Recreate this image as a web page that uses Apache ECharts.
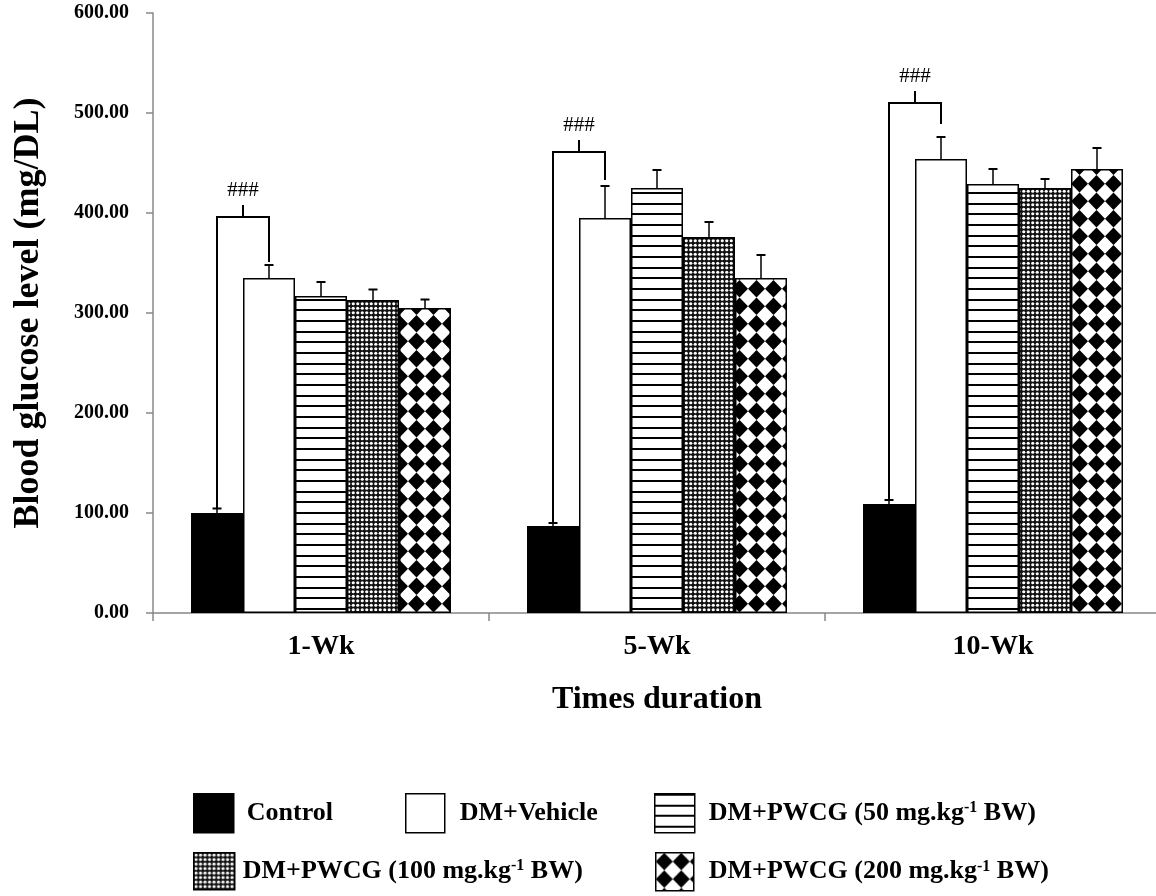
<!DOCTYPE html>
<html>
<head>
<meta charset="utf-8">
<title>Blood glucose level</title>
<script src="https://cdn.jsdelivr.net/npm/echarts@6/dist/echarts.min.js"></script>
<style>
  html, body { margin: 0; padding: 0; background: #fff; overflow: hidden; }
  /* the x axis runs a few pixels past the right edge of the page */
  #chart { width: 1170px; height: 896px; }
</style>
</head>
<body>
<div id="chart"></div>
<script>
// ---- data ----
const categories = ['1-Wk', '5-Wk', '10-Wk'];
const seriesNames = [
  'Control',
  'DM+Vehicle',
  'DM+PWCG (50 mg.kg-1 BW)',
  'DM+PWCG (100 mg.kg-1 BW)',
  'DM+PWCG (200 mg.kg-1 BW)'
];
const controlMean   = [100, 87, 109];
const controlSEM    = [4.5, 3, 4];
const vehicleMean   = [335, 395, 454];
const vehicleSEM    = [13, 32, 22];
const pwcg50Mean    = [317, 425, 429];
const pwcg50SEM     = [14, 18, 15];
const pwcg100Mean   = [313, 376, 425];
const pwcg100SEM    = [10.5, 15, 9];
const pwcg200Mean   = [305, 335, 444];
const pwcg200SEM    = [8.5, 23, 21];
// significance bracket (Control vs DM+Vehicle), in mg/DL
const bracketTop      = [396, 461, 510];
const bracketRightEnd = [351, 433, 489];
const sigLabel = '###';
const yTicks = [0, 100, 200, 300, 400, 500, 600];

const means = [controlMean, vehicleMean, pwcg50Mean, pwcg100Mean, pwcg200Mean];
const sems  = [controlSEM, vehicleSEM, pwcg50SEM, pwcg100SEM, pwcg200SEM];

// ---- fill patterns ----
function makeCanvas(w, h) {
  const c = document.createElement('canvas');
  c.width = w; c.height = h;
  return c;
}
function stripeTile() {
  const c = makeCanvas(8, 32), g = c.getContext('2d');
  g.fillStyle = '#fff'; g.fillRect(0, 0, 8, 32);
  g.fillStyle = '#000';
  [0, 11, 21].forEach(y => g.fillRect(0, y, 8, 2));
  return c;
}
function dotTile() {
  const c = makeCanvas(9, 9), g = c.getContext('2d');
  g.fillStyle = '#111'; g.fillRect(0, 0, 9, 9);
  g.fillStyle = '#fff';
  [[2.25, 2.25], [6.75, 2.25], [2.25, 6.75], [6.75, 6.75]].forEach(p => {
    g.beginPath(); g.arc(p[0], p[1], 1.6, 0, Math.PI * 2); g.fill();
  });
  return c;
}
function diamondTile() {
  const w = 34, h = 35, c = makeCanvas(w, h), g = c.getContext('2d');
  g.fillStyle = '#fff'; g.fillRect(0, 0, w, h);
  g.fillStyle = '#000';
  const hx = 8.5, hy = 8.75;
  [[8.5, 8.75], [25.5, 8.75], [8.5, 26.25], [25.5, 26.25]].forEach(p => {
    g.beginPath();
    g.moveTo(p[0], p[1] - hy);
    g.lineTo(p[0] + hx, p[1]);
    g.lineTo(p[0], p[1] + hy);
    g.lineTo(p[0] - hx, p[1]);
    g.closePath(); g.fill();
  });
  return c;
}
const fills = [
  '#000',
  '#fff',
  { image: stripeTile(), repeat: 'repeat' },
  { image: dotTile(), repeat: 'repeat' },
  { image: diamondTile(), repeat: 'repeat' }
];

// ---- layout constants ----
const FONT = "'Liberation Serif', 'Times New Roman', serif";
const BAR_W = 52;
const N = seriesNames.length;

const barSeries = seriesNames.map((name, s) => ({
  name: name,
  type: 'bar',
  barWidth: BAR_W,
  barGap: '0%',
  data: means[s],
  itemStyle: { color: fills[s], borderColor: '#000', borderWidth: 1.5 },
  emphasis: { disabled: true },
  z: 2
}));

const errData = [];
for (let s = 0; s < N; s++) {
  for (let i = 0; i < categories.length; i++) {
    errData.push([i, s, means[s][i], sems[s][i]]);
  }
}

const errorSeries = {
  name: 'sem',
  type: 'custom',
  data: errData,
  encode: { x: 0, y: 2 },
  z: 5,
  silent: true,
  renderItem: function (params, api) {
    const cat = api.value(0), s = api.value(1), v = api.value(2), e = api.value(3);
    const base = api.coord([cat, v]);
    const top = api.coord([cat, v + e]);
    const x = base[0] + (s - (N - 1) / 2) * BAR_W;
    return {
      type: 'group',
      children: [
        { type: 'line', shape: { x1: x, y1: base[1], x2: x, y2: top[1] },
          style: { stroke: '#000', lineWidth: 1.5 } },
        { type: 'line', shape: { x1: x - 4.5, y1: top[1], x2: x + 4.5, y2: top[1] },
          style: { stroke: '#000', lineWidth: 2 } }
      ]
    };
  }
};

const bracketData = categories.map((c, i) => [
  i, controlMean[i] + controlSEM[i], bracketTop[i], bracketRightEnd[i]
]);

const bracketSeries = {
  name: 'significance',
  type: 'custom',
  data: bracketData,
  encode: { x: 0, y: 2 },
  z: 6,
  silent: true,
  renderItem: function (params, api) {
    const cat = api.value(0);
    const cx = api.coord([cat, 0])[0];
    const yL = api.coord([cat, api.value(1)])[1];
    const yT = api.coord([cat, api.value(2)])[1];
    const yR = api.coord([cat, api.value(3)])[1];
    const xL = cx + (0 - (N - 1) / 2) * BAR_W;
    const xR = cx + (1 - (N - 1) / 2) * BAR_W;
    const xM = (xL + xR) / 2;
    const tick = 12;
    return {
      type: 'group',
      children: [
        { type: 'polyline',
          shape: { points: [[xL, yL], [xL, yT], [xR, yT], [xR, yR]] },
          style: { stroke: '#000', lineWidth: 2, fill: null } },
        { type: 'line', shape: { x1: xM, y1: yT, x2: xM, y2: yT - tick },
          style: { stroke: '#000', lineWidth: 2 } },
        { type: 'text', x: xM, y: yT - tick - 4,
          style: { text: sigLabel, fill: '#000', align: 'center', verticalAlign: 'bottom',
                   font: '21px ' + FONT } }
      ]
    };
  }
};

// ---- legend: one component per entry ----
const legendRich = {
  n: { fontFamily: FONT, fontSize: 26, fontWeight: 'bold', color: '#000' },
  s: { fontFamily: FONT, fontSize: 16, fontWeight: 'bold', color: '#000', verticalAlign: 'top' }
};
function legendFormatter(name) {
  const parts = name.split('-1');
  if (parts.length === 2) return '{n|' + parts[0] + '}{s|-1}{n|' + parts[1] + '}';
  return '{n|' + name + '}';
}
const legendPlaces = [
  { left: 193, top: 793, w: 40, h: 39, pad: 8 },
  { left: 405, top: 793, w: 39, h: 39, pad: 10 },
  { left: 654, top: 793, w: 40, h: 39, pad: 9 },
  { left: 193, top: 852, w: 41, h: 37, pad: 3 },
  { left: 655, top: 852, w: 38, h: 38, pad: 10 }
];
const legends = seriesNames.map((name, s) => ({
  data: [name],
  left: legendPlaces[s].left,
  top: legendPlaces[s].top,
  padding: 0,
  icon: 'rect',
  itemWidth: legendPlaces[s].w,
  itemHeight: legendPlaces[s].h,
  selectedMode: false,
  formatter: legendFormatter,
  itemStyle: { borderColor: '#000', borderWidth: 1.5 },
  textStyle: { rich: legendRich, padding: [0, 0, 0, legendPlaces[s].pad] }
}));

const chart = echarts.init(document.getElementById('chart'), null, { renderer: 'canvas' });
chart.setOption({
  animation: false,
  backgroundColor: '#fff',
  grid: { left: 153, top: 13, width: 1008, height: 600, containLabel: false },
  legend: legends,
  xAxis: {
    type: 'category',
    data: categories,
    boundaryGap: true,
    axisLine: { lineStyle: { color: '#888', width: 1.5 } },
    axisTick: { show: true, length: 8, lineStyle: { color: '#888', width: 1.5 } },
    axisLabel: { margin: 20, fontFamily: FONT, fontSize: 28, fontWeight: 'bold', color: '#000' },
    name: 'Times duration',
    nameLocation: 'middle',
    nameGap: 71,
    nameTextStyle: { fontFamily: FONT, fontSize: 32, fontWeight: 'bold', color: '#000' },
    splitLine: { show: false }
  },
  yAxis: {
    type: 'value',
    min: yTicks[0],
    max: yTicks[yTicks.length - 1],
    interval: yTicks[1] - yTicks[0],
    axisLine: { show: true, lineStyle: { color: '#888', width: 1.5 } },
    axisTick: { show: true, length: 7, lineStyle: { color: '#888', width: 1.5 } },
    axisLabel: {
      margin: 24, fontFamily: FONT, fontSize: 20, fontWeight: 'bold', color: '#000',
      formatter: v => v.toFixed(2)
    },
    splitLine: { show: false },
    name: 'Blood glucose level (mg/DL)',
    nameLocation: 'middle',
    nameGap: 106,
    nameTextStyle: { fontFamily: FONT, fontSize: 36, fontWeight: 'bold', color: '#000' }
  },
  series: barSeries.concat([errorSeries, bracketSeries])
});
</script>
</body>
</html>
